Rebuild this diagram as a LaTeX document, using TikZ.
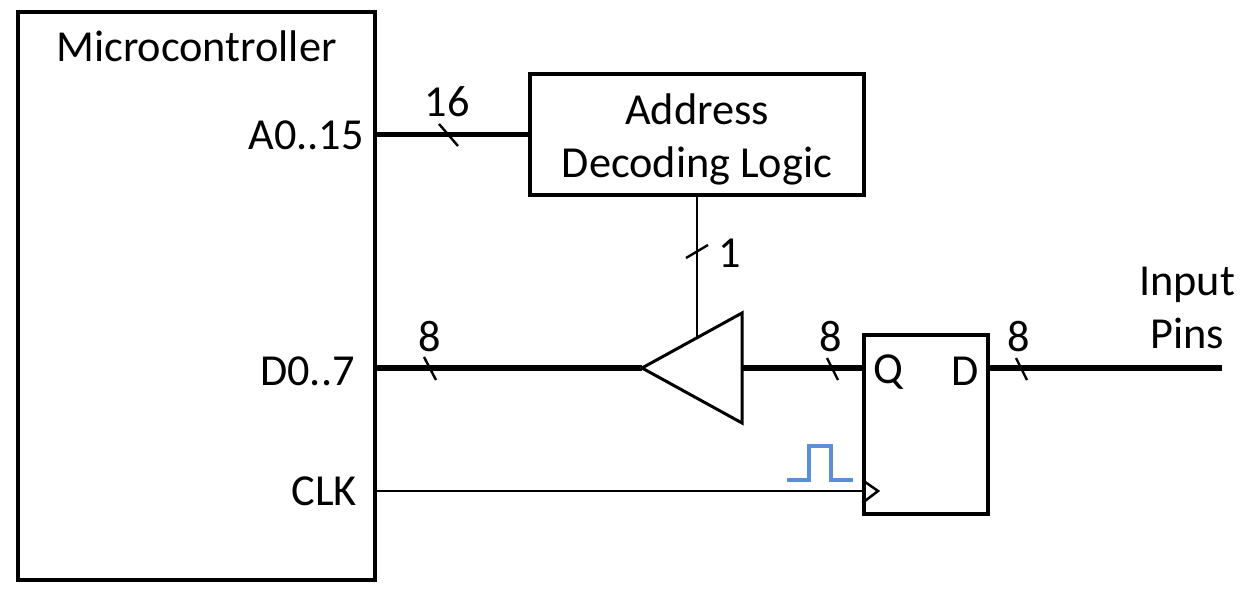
\documentclass[tikz,border=0pt]{standalone}
\usepackage{fontspec}
\setmainfont{Carlito}
\usetikzlibrary{positioning}
\definecolor{pulseblue}{HTML}{5B8FD6}
\tikzset{
  block/.style={rectangle, draw, line width=3.4pt, minimum width=#1, inner sep=0pt},
  thinwire/.style={line width=2.5pt},
  bufedge/.style={line width=3pt, line join=miter},
  buswire/.style={line width=5.8pt},
  busmark/.style={line width=2.4pt},
  lbl/.style={inner sep=0pt, font=\fontsize{44.3}{46}\selectfont}
}
\begin{document}
\begin{tikzpicture}[x=1pt,y=-1pt]
   \useasboundingbox (0,0) rectangle (1246,596);
   % blocks
   \node[block=357pt, minimum height=568pt] (MCU) at (196.5,296) {};
   \node[block=334pt, minimum height=121pt] (DEC) at (697,134.5) {};
   \node[block=124pt, minimum height=179pt] (FF) at (926,424.5) {};

   % tristate buffer
   \coordinate (tip) at (642,368);
   \coordinate (baseT) at (742,313);
   \coordinate (baseB) at (742,423);
   \coordinate (baseM) at (742,368);
   \coordinate (ctrl) at (697,338);
   \coordinate (inpins) at (1222,368);

   % text
   \node[lbl] (MCUname) at (196.5,46) {Microcontroller};
   \node[lbl, anchor=east] (A) at (364,135) {A0..15};
   \node[lbl, anchor=east] (Dp) at (355,371) {D0..7};
   \node[lbl, anchor=east] (CLK) at (357,491) {CLK};
   \node[lbl, align=center] (DECname) at (697,139.5) {Address\\[7pt]Decoding Logic};
   \node[lbl] (Q) at (888,372) {Q};
   \node[lbl] (Din) at (965,371) {D};
   \node[lbl, align=center] (pins) at (1187,308) {Input\\[7pt]Pins};
   \node[lbl] (w16) at (447,102) {16};
   \node[lbl] (w1) at (730,253) {1};
   \node[lbl] (w8a) at (430,337) {8};
   \node[lbl] (w8b) at (831,337) {8};
   \node[lbl] (w8c) at (1019,337) {8};

   % wires
   \draw[buswire] (MCU.east |- DEC) -- (DEC.west);
   \draw[buswire] (MCU.east |- tip) -- (tip);
   \draw[buswire] (baseM) -- (FF.west |- baseM);
   \draw[buswire] (FF.east |- baseM) -- (inpins);
   \draw[thinwire] (DEC.south) -- (ctrl);
   \draw[thinwire] (MCU.east |- 0,491) -- (FF.west |- 0,491);
   \draw[bufedge] (tip) -- (baseT) -- (baseB) -- cycle;
   \draw[thinwire] (FF.west |- 0,480) -- (878,491) -- (FF.west |- 0,503);

   % bus width marks
   \draw[busmark] (439,124) -- (458,146);
   \draw[busmark] (686,258) -- (708,245);
   \draw[busmark] (424,357) -- (436,380);
   \draw[busmark] (827,358) -- (838,380);
   \draw[busmark] (1016,358) -- (1027,380);

   % clock pulse
   \draw[pulseblue, line width=3.2pt] (787,480) -- (809,480) -- (809,446) -- (831,446) -- (831,480) -- (853,480);
\end{tikzpicture}
\end{document}
